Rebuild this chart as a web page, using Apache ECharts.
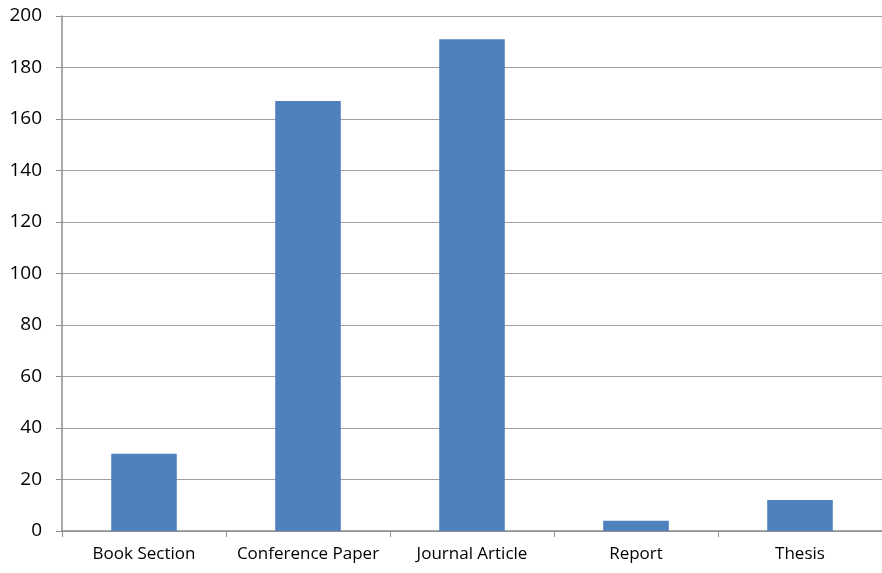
<!DOCTYPE html>
<html>
<head>
<meta charset="utf-8">
<script src="https://cdn.jsdelivr.net/npm/echarts@6/dist/echarts.min.js"></script>
<style>
  html, body { margin: 0; padding: 0; background: #fff; }
  #chart { width: 882px; height: 573px; }
</style>
</head>
<body>
<div id="chart"></div>
<script>
const categories = ['Book Section', 'Conference Paper', 'Journal Article', 'Report', 'Thesis'];
const counts = [30, 167, 191, 4, 12];

const chart = echarts.init(document.getElementById('chart'));
chart.setOption({
  animation: false,
  grid: { left: 62, right: 0, top: 16, bottom: 42 },
  xAxis: {
    type: 'category',
    data: categories,
    axisLine: { lineStyle: { color: '#8c8c8c', width: 1.5 } },
    axisTick: { show: true, length: 6, lineStyle: { color: '#8c8c8c' } },
    axisLabel: { color: '#000', fontSize: 17, fontFamily: 'Open Sans', margin: 15, interval: 0, hideOverlap: false }
  },
  yAxis: {
    type: 'value',
    min: 0,
    max: 200,
    interval: 20,
    axisLine: { show: true, lineStyle: { color: '#8c8c8c', width: 1.5 } },
    axisTick: { show: true, length: 6, lineStyle: { color: '#8c8c8c' } },
    splitLine: { lineStyle: { color: '#a0a0a0', width: 1.2 } },
    axisLabel: { color: '#000', fontSize: 19, fontFamily: 'Open Sans', margin: 20 }
  },
  series: [{
    type: 'bar',
    data: counts,
    barWidth: '40%',
    itemStyle: { color: '#4f81bd' }
  }]
});
</script>
</body>
</html>
